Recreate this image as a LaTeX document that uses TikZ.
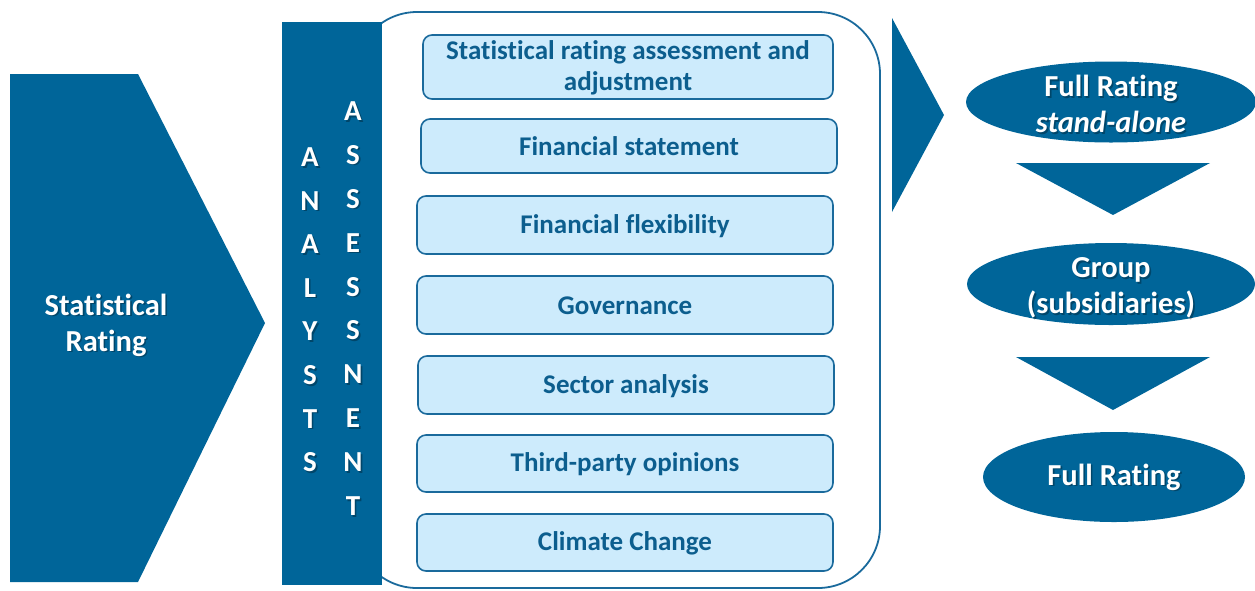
\documentclass[tikz,border=0pt]{standalone}
\usepackage{fontspec}
\setmainfont{Carlito}[Ligatures=NoCommon]
\usetikzlibrary{shapes.geometric}

\definecolor{deepblue}{RGB}{0,101,153}
\definecolor{paleblue}{RGB}{205,235,252}
\definecolor{edgeblue}{RGB}{26,106,156}
\definecolor{labelblue}{RGB}{12,94,142}

% white label with a soft drop shadow: name, position, text
\newcommand\castlabel[3]{%
  \node[text=black,opacity=0.3,align=center,
        font=\bfseries\fontsize{30.5}{36}\selectfont,
        xshift=1.6pt,yshift=-1.6pt] at #2 {#3};
  \node[text=white,align=center,
        font=\bfseries\fontsize{30.5}{36}\selectfont] (#1) at #2 {#3};}

\tikzset{
  factorbox/.style={draw=edgeblue,line width=1.6pt,fill=paleblue,
    rounded corners=9pt,inner sep=0pt},
  factortext/.style={text=labelblue,align=center,
    font=\bfseries\fontsize{27}{31}\selectfont},
  rating/.style={ellipse,fill=deepblue,inner sep=0pt},
  letter/.style={text=white,font=\bfseries\fontsize{29}{29}\selectfont},
  lettershade/.style={text=black,opacity=0.3,font=\bfseries\fontsize{29}{29}\selectfont,
    xshift=1.6pt,yshift=-1.6pt},
}

\begin{document}
\begin{tikzpicture}[x=1pt,y=-1pt]
\useasboundingbox (0,0) rectangle (1255,590);

% left chevron
\fill[deepblue] (10,74) -- (138,74) -- (265,323) -- (138,582) -- (10,582) -- cycle;
\castlabel{stat}{(106,325)}{Statistical\\Rating}

% frame around the assessment factors
\draw[edgeblue,line width=1.8pt,fill=white,rounded corners=62pt]
  (355,12) rectangle (880,588);

% vertical analysts bar
\fill[deepblue] (282,22) rectangle (382,585);
\foreach \ch [count=\i from 0] in {A,N,A,L,Y,S,T,S} {
  \node[lettershade] at (310,157+43.6*\i) {\ch};
  \node[letter] (an\i) at (310,157+43.6*\i) {\ch};
}
\foreach \ch [count=\i from 0] in {A,S,S,E,S,S,N,E,N,T} {
  \node[lettershade] at (353,111+43.9*\i) {\ch};
  \node[letter] (as\i) at (353,111+43.9*\i) {\ch};
}

% assessment factors
\draw[factorbox] (423,35) rectangle (833,99);
\node[factortext] (f1) at (628,68) {Statistical rating assessment and\\adjustment};
\draw[factorbox] (421,119) rectangle (837,173);
\node[factortext] (f2) at (629,146) {Financial statement};
\draw[factorbox] (417,196) rectangle (833,254);
\node[factortext] (f3) at (625,226) {Financial flexibility};
\draw[factorbox] (417,276) rectangle (833,334);
\node[factortext] (f4) at (625,306) {Governance};
\draw[factorbox] (418,356) rectangle (834,414);
\node[factortext] (f5) at (626,386) {Sector analysis};
\draw[factorbox] (417,435) rectangle (833,492);
\node[factortext] (f6) at (625,464) {Third-party opinions};
\draw[factorbox] (417,514) rectangle (833,571);
\node[factortext] (f7) at (625,543) {Climate Change};

% arrow towards the ratings
\fill[deepblue] (892,18) -- (944,115) -- (892,212) -- cycle;

% rating chain
\node[rating,minimum width=290pt,minimum height=81pt] (r1) at (1111,102) {};
\node[text=black,opacity=0.3,align=center,xshift=1.6pt,yshift=-1.6pt,
      font=\fontsize{30.5}{36}\selectfont] at (1111,104)
      {\textbf{Full Rating}\\\textbf{\itshape stand-alone}};
\node[text=white,align=center,font=\fontsize{30.5}{36}\selectfont] (t1) at (1111,104)
      {\textbf{Full Rating}\\\textbf{\itshape stand-alone}};

\fill[deepblue] (1016,163) -- (1210,163) -- (1113,215) -- cycle;

\node[rating,minimum width=288pt,minimum height=82pt] (r2) at (1111,284) {};
\castlabel{t2}{(1111,288)}{Group\\(subsidiaries)}

\fill[deepblue] (1016,357) -- (1210,357) -- (1113,410) -- cycle;

\node[rating,minimum width=262pt,minimum height=90pt] (r3) at (1114,477) {};
\castlabel{t3}{(1114,477)}{Full Rating}
\end{tikzpicture}
\end{document}
